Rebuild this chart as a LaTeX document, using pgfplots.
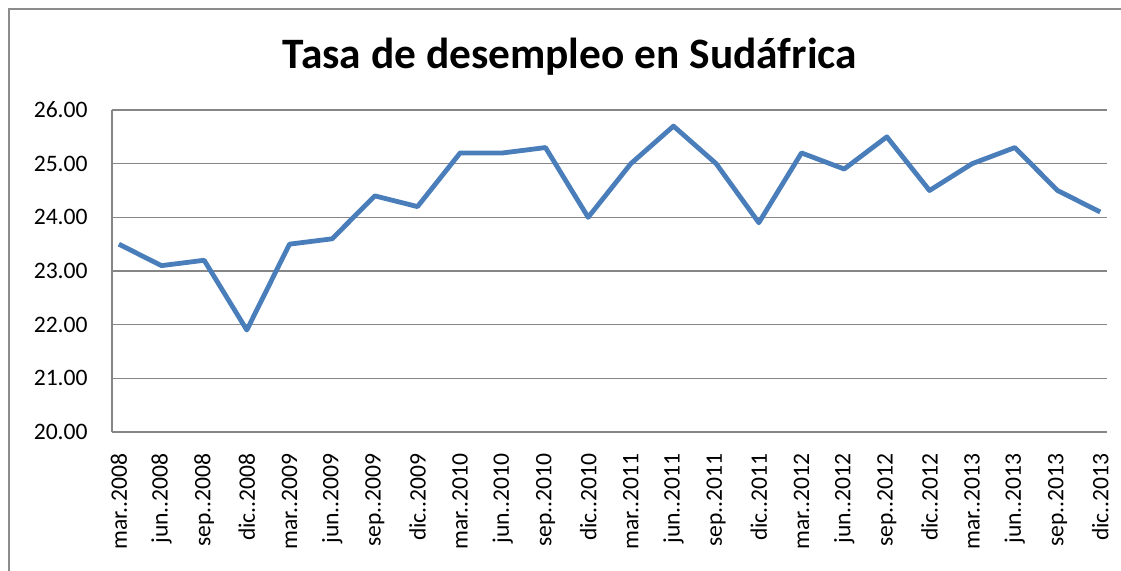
\documentclass[border=0pt]{standalone}
\usepackage{fontspec}
\setmainfont{Carlito}
\usepackage{pgfplots}
\pgfplotsset{compat=1.18}
\definecolor{linecol}{HTML}{4A7EBB}
\definecolor{gridcol}{HTML}{868686}
\definecolor{framecol}{HTML}{8C8C8C}
\begin{document}
\begin{tikzpicture}
\useasboundingbox (0,0) rectangle (560.5pt,-285.5pt);
\begin{scope}
\clip (0,0) rectangle (560.5pt,-285.5pt);
\draw[framecol, line width=1pt] (4.5pt,-4.5pt) rectangle (620pt,-330pt);
\end{scope}
\node[font=\bfseries\fontsize{21.7}{26}\selectfont, anchor=base, inner sep=0pt] at (285pt,-34.5pt) {Tasa de desempleo en Sudáfrica};
\begin{axis}[
  at={(56pt,-216pt)}, anchor=south west,
  scale only axis, width=497.5pt, height=161pt,
  xmin=-0.16, xmax=23.16, ymin=20, ymax=26,
  axis lines*=left,
  axis line style={draw=gridcol, line width=0.8pt, -},
  ymajorgrids, grid style={draw=gridcol, line width=0.8pt},
  major tick length=0pt,
  ytick={20,21,22,23,24,25,26},
  yticklabels={20.00,21.00,22.00,23.00,24.00,25.00,26.00},
  xtick={0,...,23},
  xticklabels={mar..2008,jun..2008,sep..2008,dic..2008,mar..2009,jun..2009,sep..2009,dic..2009,mar..2010,jun..2010,sep..2010,dic..2010,mar..2011,jun..2011,sep..2011,dic..2011,mar..2012,jun..2012,sep..2012,dic..2012,mar..2013,jun..2013,sep..2013,dic..2013},
  tick label style={font=\fontsize{11.8}{13}\selectfont, text=black},
  yticklabel style={anchor=east, inner sep=0pt},
  yticklabel shift=12pt,
  xticklabel style={rotate=90, anchor=east, inner sep=0pt},
  xticklabel shift=10.5pt,
  clip=false,
]
\addplot[linecol, line width=2.4pt, line join=round, mark=none] coordinates {
(0,23.5) (1,23.1) (2,23.2) (3,21.9) (4,23.5) (5,23.6) (6,24.4) (7,24.2)
(8,25.2) (9,25.2) (10,25.3) (11,24.0) (12,25.0) (13,25.7) (14,25.0) (15,23.9)
(16,25.2) (17,24.9) (18,25.5) (19,24.5) (20,25.0) (21,25.3) (22,24.5) (23,24.1)
};
\end{axis}
\end{tikzpicture}
\end{document}
